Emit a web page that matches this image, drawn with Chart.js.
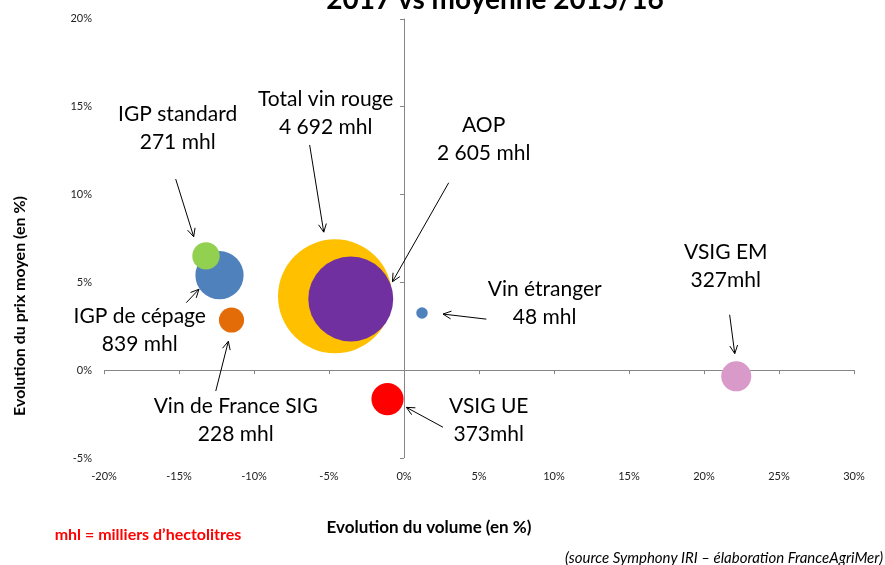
<!DOCTYPE html>
<html>
<head>
<meta charset="utf-8">
<script src="https://cdn.jsdelivr.net/npm/chart.js@4/dist/chart.umd.min.js"></script>
<style>
    body { margin: 0; background: #fff; }
</style>
</head>
<body>
<canvas id="bubbleChart" width="885" height="565"></canvas>
<script>
// Data
const categories = ['Total vin rouge', 'AOP', 'IGP de cépage', 'IGP standard', 'Vin de France SIG', 'VSIG UE', 'VSIG EM', 'Vin étranger'];
const volumeChange = [-4.6, -3.55, -12.3, -13.2, -11.5, -1.1, 22.15, 1.2];
const priceChange = [4.2, 4.05, 5.4, 6.5, 2.85, -1.65, -0.35, 3.25];
const volumes = [4692, 2605, 839, 271, 228, 373, 327, 48];
const volumeLabels = ['4 692 mhl', '2 605 mhl', '839 mhl', '271 mhl', '228 mhl', '373mhl', '327mhl', '48 mhl'];
const xTicks = [-20, -15, -10, -5, 0, 5, 10, 15, 20, 25, 30];
const yTicks = [-5, 0, 5, 10, 15, 20];

const bubbleColors = ['#FFC000', '#7030A0', '#4F81BD', '#92D050', '#E36C09', '#FF0000', '#D99AC9', '#4F81BD'];
const maxRadius = 57;
const FONT = 'Lato, "Open Sans", sans-serif';

// Label blocks and arrows, in data units (x = volume %, y = price %)
const labelPos = [
    [-5.22, 14.62], [5.31, 13.12], [-17.62, 2.27], [-15.09, 13.74],
    [-11.22, -2.87], [5.65, -2.84], [21.45, 5.89], [9.38, 3.82]
];
const arrows = [
    [-6.29, 12.81, -5.35, 7.85],
    [2.98, 10.66, -0.77, 5.03],
    [-14.51, 3.84, -13.67, 4.60],
    [-15.22, 10.87, -14.02, 7.59],
    [-12.55, -1.19, -11.71, 1.64],
    [2.6, -3.25, 0.16, -2.12],
    [21.71, 3.15, 22.05, 0.94],
    [5.49, 2.90, 2.6, 3.19]
];

const bubbleData = categories.map((c, i) => ({
    x: volumeChange[i],
    y: priceChange[i],
    r: maxRadius * Math.sqrt(volumes[i] / volumes[0])
}));

function drawArrow(ctx, x1, y1, x2, y2) {
    ctx.beginPath();
    ctx.moveTo(x1, y1);
    ctx.lineTo(x2, y2);
    ctx.stroke();
    const a = Math.atan2(y2 - y1, x2 - x1), h = 9, s = 0.45;
    ctx.beginPath();
    ctx.moveTo(x2 - h * Math.cos(a - s), y2 - h * Math.sin(a - s));
    ctx.lineTo(x2, y2);
    ctx.lineTo(x2 - h * Math.cos(a + s), y2 - h * Math.sin(a + s));
    ctx.stroke();
}

// Axes crossing at zero, Excel style
const zeroAxes = {
    id: 'zeroAxes',
    beforeDatasetsDraw(chart) {
        const ctx = chart.ctx, xs = chart.scales.x, ys = chart.scales.y;
        const x0 = xs.getPixelForValue(0), y0 = ys.getPixelForValue(0);
        ctx.save();
        ctx.strokeStyle = '#868686';
        ctx.lineWidth = 1;
        ctx.beginPath();
        ctx.moveTo(xs.left, Math.round(y0) + 0.5);
        ctx.lineTo(xs.right, Math.round(y0) + 0.5);
        ctx.moveTo(Math.round(x0) + 0.5, ys.top);
        ctx.lineTo(Math.round(x0) + 0.5, ys.bottom);
        xTicks.forEach(t => {
            const px = Math.round(xs.getPixelForValue(t)) + 0.5;
            ctx.moveTo(px, y0);
            ctx.lineTo(px, y0 + 4);
        });
        yTicks.forEach(t => {
            const py = Math.round(ys.getPixelForValue(t)) + 0.5;
            ctx.moveTo(x0 - 4, py);
            ctx.lineTo(x0, py);
        });
        ctx.stroke();
        ctx.restore();
    }
};

// Texts, arrows and notes
const annotations = {
    id: 'annotations',
    afterDraw(chart) {
        const ctx = chart.ctx, xs = chart.scales.x, ys = chart.scales.y;
        ctx.save();
        ctx.fillStyle = '#000';
        ctx.strokeStyle = '#000';
        ctx.lineWidth = 1;
        ctx.textAlign = 'center';
        ctx.textBaseline = 'middle';

        ctx.font = '21px ' + FONT;
        categories.forEach((c, i) => {
            const px = xs.getPixelForValue(labelPos[i][0]);
            const py = ys.getPixelForValue(labelPos[i][1]);
            ctx.fillText(c, px, py - 14);
            ctx.fillText(volumeLabels[i], px, py + 14);
        });
        arrows.forEach(a => {
            drawArrow(ctx, xs.getPixelForValue(a[0]), ys.getPixelForValue(a[1]),
                xs.getPixelForValue(a[2]), ys.getPixelForValue(a[3]));
        });

        // title, cut at the top like the original
        ctx.font = 'bold 28px ' + FONT;
        ctx.textBaseline = 'alphabetic';
        ctx.fillText('2017 vs moyenne 2015/16', 495, 9);

        ctx.textBaseline = 'middle';
        ctx.font = 'bold 17px ' + FONT;
        ctx.fillText('Evolution du volume (en %)', 429, 528);
        ctx.font = 'bold 16px ' + FONT;
        ctx.save();
        ctx.translate(20, 306);
        ctx.rotate(-Math.PI / 2);
        ctx.fillText('Evolution du prix moyen (en %)', 0, 0);
        ctx.restore();

        ctx.fillStyle = '#FF0000';
        ctx.font = 'bold 16px ' + FONT;
        ctx.fillText('mhl = milliers d\u2019hectolitres', 148, 535);

        ctx.fillStyle = '#000';
        ctx.font = 'italic 15px ' + FONT;
        ctx.textAlign = 'right';
        ctx.fillText('(source Symphony IRI \u2013 élaboration FranceAgriMer)', 883, 558);
        ctx.restore();
    }
};

const chart = new Chart(document.getElementById('bubbleChart'), {
    type: 'bubble',
    data: {
        datasets: [{
            label: 'Evolution',
            data: bubbleData,
            backgroundColor: bubbleColors,
            borderWidth: 0,
            hoverRadius: 0
        }]
    },
    options: {
        responsive: false,
        animation: false,
        events: [],
        layout: { autoPadding: false, padding: { top: 17, right: 31, left: 0, bottom: 0 } },
        plugins: {
            legend: { display: false },
            tooltip: { enabled: false }
        },
        scales: {
            x: {
                type: 'linear',
                min: -20,
                max: 30,
                afterFit: s => { s.height = 107; },
                afterBuildTicks: s => { s.ticks = xTicks.map(v => ({ value: v })); },
                grid: { display: false, drawTicks: false },
                border: { display: false },
                ticks: {
                    padding: 12,
                    color: '#222',
                    font: { family: FONT, size: 11 },
                    callback: v => v + '%'
                }
            },
            y: {
                type: 'linear',
                min: -5,
                max: 20,
                afterFit: s => { s.width = 104; },
                afterBuildTicks: s => { s.ticks = yTicks.map(v => ({ value: v })); },
                grid: { display: false, drawTicks: false },
                border: { display: false },
                ticks: {
                    padding: 12,
                    color: '#222',
                    font: { family: FONT, size: 11 },
                    callback: v => v + '%'
                }
            }
        }
    },
    plugins: [zeroAxes, annotations]
});
</script>
</body>
</html>
